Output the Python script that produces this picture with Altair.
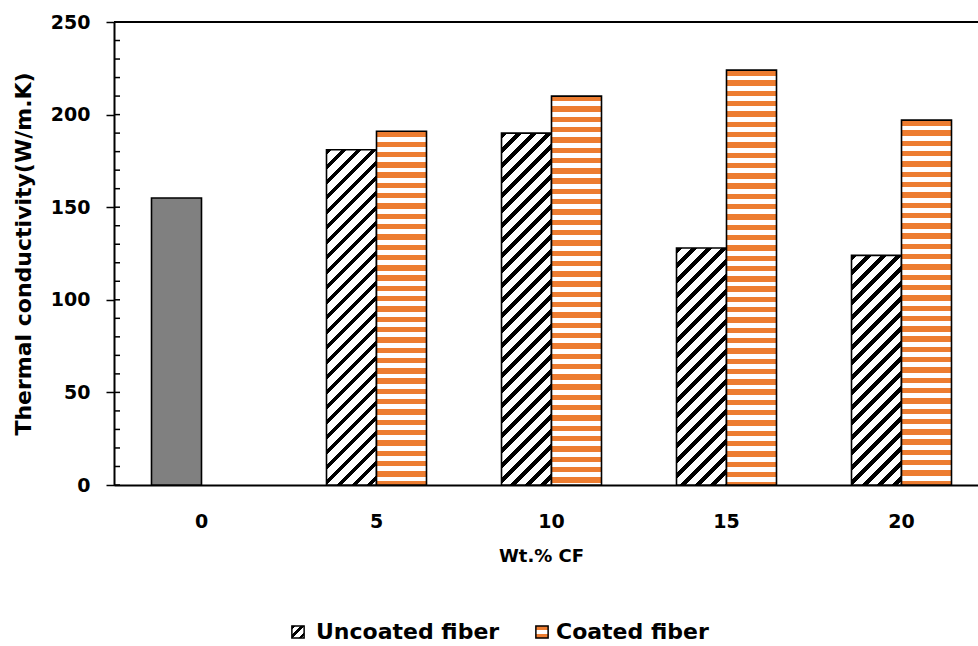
import altair as alt
import pandas as pd

# ---- data -------------------------------------------------------------
CATEGORIES = ["0", "5", "10", "15", "20"]          # Wt.% CF
SERIES = ["Uncoated fiber", "Coated fiber"]
UNCOATED = [155, 181, 190, 128, 124]               # W/m.K (0 wt.% = matrix)
COATED = [None, 191, 210, 224, 197]                # W/m.K
Y_TICKS = [0, 50, 100, 150, 200, 250]
MINOR_TICKS = [0, 10, 20, 30, 40, 50, 60, 70, 80, 90, 100, 110, 120, 130,
               140, 150, 160, 170, 180, 190, 200, 210, 220, 230, 240, 250]

# ---- layout / style ---------------------------------------------------
W, H = 864, 463
Y_MAX = 250
STEP = 175          # px per category
BAR_W = 50          # px per bar
ORANGE = "#ED7D31"
GREY = "#808080"
FONT = "DejaVu Sans"


def stripe_stops(period, frac, on, off):
    """Hard-edged alternating stops over t in [0, 1]."""
    stops = []
    s = 0.0
    while s < 1.0:
        e = min(s + frac * period, 1.0)
        n = min(s + period, 1.0)
        stops += [{"offset": round(s, 5), "color": on},
                  {"offset": round(e, 5), "color": on},
                  {"offset": round(e, 5), "color": off},
                  {"offset": round(n, 5), "color": off}]
        s += period
    return stops


def horizontal_fill(h, period=10.3, frac=0.52):
    return {"gradient": "linear", "x1": 0, "y1": 0, "x2": 0, "y2": 1,
            "stops": stripe_stops(period / h, frac, ORANGE, "#ffffff")}


def diagonal_fill(w, h, period=15.0, frac=0.38):
    # t = (X + Y) / (w + h) inside the bar box -> stripes running "/"
    k = (w + h) / (w * w + h * h)
    return {"gradient": "linear", "x1": 0, "y1": 0,
            "x2": round(k * w, 6), "y2": round(k * h, 6),
            "stops": stripe_stops(period / (w + h), frac, "#000000", "#ffffff")}


rows = []
for cat, u, c in zip(CATEGORIES, UNCOATED, COATED):
    if u is not None:
        h = u / Y_MAX * H
        pattern = GREY if cat == "0" else diagonal_fill(BAR_W, h)
        rows.append({"wt": cat, "series": SERIES[0], "value": u, "pattern": pattern})
    if c is not None:
        h = c / Y_MAX * H
        rows.append({"wt": cat, "series": SERIES[1], "value": c,
                     "pattern": horizontal_fill(h)})

y_scale = alt.Scale(domain=[0, Y_MAX], nice=False, zero=True)

bars = alt.Chart(alt.Data(values=rows)).mark_bar(
    stroke="#000000", strokeWidth=1.6
).encode(
    x=alt.X(
        "wt:N", sort=CATEGORIES,
        scale=alt.Scale(domain=CATEGORIES, range=[0, STEP * len(CATEGORIES)],
                        paddingInner=(STEP - 2 * BAR_W) / STEP,
                        paddingOuter=(STEP - 2 * BAR_W) / STEP / 2),
        axis=alt.Axis(
            title="Wt.% CF", labelAngle=0, ticks=False, tickSize=0,
            domainColor="#000000", domainWidth=2,
            labelFont=FONT, labelFontSize=19, labelFontWeight="bold",
            labelColor="#000000", labelPadding=27,
            titleFont=FONT, titleFontSize=18, titleFontWeight="bold",
            titleColor="#000000", titlePadding=16, titleX=427,
        ),
    ),
    xOffset=alt.XOffset("series:N",
                        scale=alt.Scale(domain=SERIES, paddingInner=0, paddingOuter=0)),
    y=alt.Y(
        "value:Q", scale=y_scale,
        axis=alt.Axis(
            values=Y_TICKS, grid=False, tickSize=8, tickWidth=1.5,
            tickColor="#000000", domainColor="#000000", domainWidth=2,
            labelFont=FONT, labelFontSize=19, labelFontWeight="bold",
            labelColor="#000000", labelPadding=16,
            title="Thermal conductivity(W/m.K)",
            titleFont=FONT, titleFontSize=22, titleFontWeight="bold",
            titleColor="#000000", titlePadding=15,
        ),
    ),
    fill=alt.Fill("pattern:N", scale=None, legend=None),
)

# line across the top of the value range
top_line = alt.Chart(alt.Data(values=[{}])).mark_rule(
    color="#000000", strokeWidth=2
).encode(y=alt.datum(Y_MAX, scale=y_scale))

# small inner ticks every 10 units
minor = alt.Chart(pd.DataFrame({"v": MINOR_TICKS})).mark_rule(
    color="#000000", strokeWidth=1.5
).encode(
    y=alt.Y("v:Q", scale=y_scale),
    x=alt.value(0), x2=alt.value(6),
)

# legend below the axis title
legend_fills = {
    SERIES[0]: diagonal_fill(12, 12, period=9.0, frac=0.4),
    SERIES[1]: {"gradient": "linear", "x1": 0, "y1": 0, "x2": 0, "y2": 1,
                "stops": [{"offset": 0, "color": ORANGE},
                          {"offset": 0.36, "color": ORANGE},
                          {"offset": 0.36, "color": "#ffffff"},
                          {"offset": 0.64, "color": "#ffffff"},
                          {"offset": 0.64, "color": ORANGE},
                          {"offset": 1, "color": ORANGE}]},
}
legend_symbol_x = {SERIES[0]: 298 - 114, SERIES[1]: 542 - 114}
legend_text_x = {SERIES[0]: 316 - 114, SERIES[1]: 556 - 114}
legend_y = 632 - 22

legend_layers = []
for name in SERIES:
    legend_layers.append(
        alt.Chart(alt.Data(values=[{"label": name}])).mark_square(
            size=150, filled=True, fill=legend_fills[name],
            stroke="#000000", strokeWidth=1.5, opacity=1
        ).encode(x=alt.value(legend_symbol_x[name]), y=alt.value(legend_y))
    )
    legend_layers.append(
        alt.Chart(alt.Data(values=[{"label": name}])).mark_text(
            align="left", baseline="middle", font=FONT, fontSize=22,
            fontWeight="bold", color="#000000"
        ).encode(text="label:N", x=alt.value(legend_text_x[name]),
                 y=alt.value(legend_y))
    )

chart = alt.layer(top_line, bars, minor, *legend_layers).properties(
    width=W, height=H,
    padding={"left": 114, "top": 22, "right": 0, "bottom": 161},
    autosize=alt.AutoSizeParams(type="none"),
    background="#ffffff",
).configure_view(stroke=None)

chart.save("out.html", embed_options={"renderer": "svg", "actions": False})
